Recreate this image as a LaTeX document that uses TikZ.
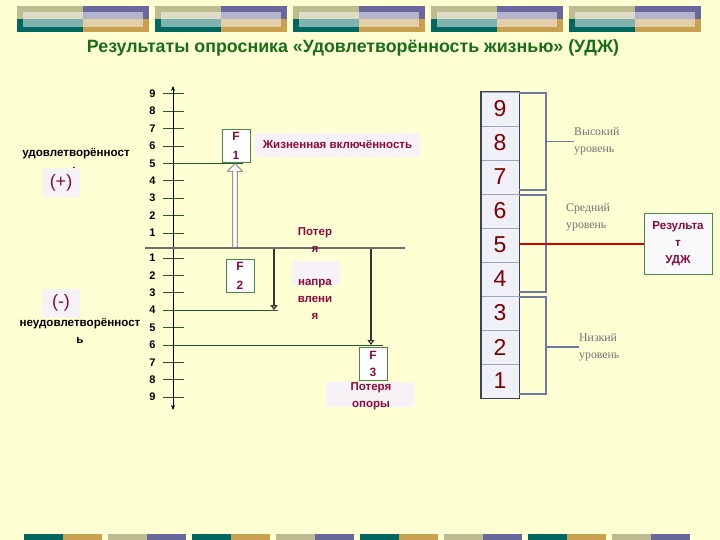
\documentclass[tikz,border=0pt]{standalone}
\usepackage{fontspec}
\setmainfont{Liberation Sans}
\newfontfamily\serifrm{Liberation Serif}
\usepackage{tikz}
\usepackage{xcolor}
\usetikzlibrary{arrows.meta,calc}

\definecolor{bgyellow}{RGB}{255,255,212}
\definecolor{bteal}{RGB}{0,104,96}
\definecolor{bgold}{RGB}{200,160,80}
\definecolor{bpurple}{RGB}{104,104,156}
\definecolor{bkhaki}{RGB}{188,188,144}
\definecolor{titlegreen}{RGB}{24,110,24}
\definecolor{tickgreen}{RGB}{40,90,40}
\definecolor{boxgreen}{RGB}{70,140,70}
\definecolor{darkred}{RGB}{140,10,60}
\definecolor{cellred}{RGB}{125,0,0}
\definecolor{paleback}{RGB}{246,242,246}
\definecolor{cellfill}{RGB}{240,240,248}
\definecolor{cellline}{RGB}{160,165,190}
\definecolor{bracketblue}{RGB}{110,120,160}
\definecolor{levelgrey}{RGB}{110,110,110}

\tikzset{
  axisnum/.style={anchor=east, font=\bfseries\fontsize{11}{12}\selectfont},
  tickline/.style={draw=tickgreen, line width=0.9pt},
  levelline/.style={draw=tickgreen, line width=0.9pt},
  fbox/.style={draw=boxgreen, fill=white, line width=0.8pt, minimum width=28pt,
    minimum height=33pt, inner sep=0pt, align=center, text=darkred,
    font=\bfseries\fontsize{12}{19}\selectfont},
  redtext/.style={text=darkred, align=center, inner sep=0pt,
    font=\bfseries\fontsize{11.5}{17}\selectfont},
  signbox/.style={fill=paleback, minimum width=38pt, minimum height=29pt,
    inner sep=0pt, text=darkred, font=\fontsize{18}{20}\selectfont},
  sideword/.style={align=center, inner sep=0pt,
    font=\bfseries\fontsize{11.6}{17}\selectfont},
  cellbox/.style={draw=cellline, fill=cellfill, line width=0.8pt,
    minimum width=38pt, minimum height=34pt, inner sep=0pt, text=cellred,
    font=\fontsize{23}{24}\selectfont},
  bracket/.style={draw=bracketblue, line width=1.3pt},
  levelname/.style={anchor=west, align=left, inner sep=0pt, text=black!55,
    font=\serifrm\fontsize{11.8}{17}\selectfont},
  downarrow/.style={draw=black!80, line width=1.2pt,
    -{Triangle[open, length=5pt, width=7pt]}}
}

\begin{document}
\begin{tikzpicture}[x=1pt,y=-1pt]
\useasboundingbox (0,0) rectangle (720,540);
\fill[bgyellow] (0,0) rectangle (720,540);

% top banners
\foreach \i in {0,...,4}{
  \pgfmathsetmacro{\xa}{17+138*\i}
  \fill[bkhaki] (\xa,6) rectangle (\xa+66,19);
  \fill[bpurple] (\xa+66,6) rectangle (\xa+132,19);
  \fill[bteal] (\xa,19) rectangle (\xa+66,32);
  \fill[bgold] (\xa+66,19) rectangle (\xa+132,32);
  \fill[white, opacity=0.5] (\xa+6,12) rectangle (\xa+126,27);
}

% bottom bars
\foreach \i in {0,...,7}{
  \pgfmathsetmacro{\xb}{24+84*\i}
  \ifodd\i
    \fill[bkhaki] (\xb,534) rectangle (\xb+39,540);
    \fill[bpurple] (\xb+39,534) rectangle (\xb+78,540);
  \else
    \fill[bteal] (\xb,534) rectangle (\xb+39,540);
    \fill[bgold] (\xb+39,534) rectangle (\xb+78,540);
  \fi
}

\node[text=titlegreen, font=\bfseries\fontsize{17.8}{20}\selectfont] (title) at (353,48)
  {Результаты опросника «Удовлетворённость жизнью» (УДЖ)};

% scale with ticks
\coordinate (zero) at (173,248);
\coordinate (axtop) at (173,86);
\coordinate (axbot) at (173,410);
\foreach \n in {1,...,9}{
  \pgfmathsetmacro{\yu}{250.4-17.4*\n}
  \pgfmathsetmacro{\yd}{240.6+17.4*\n}
  \coordinate (up\n) at (173,\yu);
  \coordinate (dn\n) at (173,\yd);
  \draw[tickline] (163,\yu) -- (184,\yu);
  \draw[tickline] (163,\yd) -- (184,\yd);
  \node[axisnum] (lu\n) at (159,\yu) {\n};
  \node[axisnum] (ld\n) at (159,\yd) {\n};
}
\draw[-{Stealth[length=5pt,width=4pt]}, line width=0.8pt] (zero) -- (axtop);
\draw[-{Stealth[length=5pt,width=4pt]}, line width=0.8pt] (zero) -- (axbot);

% level lines
\draw[levelline] ([xshift=-10pt]up5) -- ([xshift=70pt]up5);
\draw[levelline] ([xshift=-10pt]dn4) -- ([xshift=105pt]dn4);
\draw[levelline] ([xshift=-10pt]dn6) -- ([xshift=210pt]dn6);

% F1 hollow arrow
\coordinate (f1base) at (235,248);
\path (up5) ++(62,0) coordinate (f1tip);
\draw[black!60, fill=white, line width=0.7pt]
  ($(f1base)+(-2.2,0)$) -- ($(f1tip)+(-2.2,8)$) -- ($(f1tip)+(-7.5,8)$) -- (f1tip)
  -- ($(f1tip)+(7.5,8)$) -- ($(f1tip)+(2.2,8)$) -- ($(f1base)+(2.2,0)$);

% F2, F3 arrows
\coordinate (f2top) at (274,248);
\path (dn4) ++(101,0) coordinate (f2end);
\coordinate (f3top) at (371,248);
\path (dn6) ++(198,0) coordinate (f3end);
\draw[downarrow] (f2top) -- (f2end);
\draw[downarrow] (f3top) -- (f3end);

% zero line
\draw[levelgrey, line width=2.6pt] (145,248) -- (405,248);

% factor boxes
\node[fbox] (f1) at (236,145.5) {F\\1};
\node[fbox] (f2) at (240,276) {F\\2};
\node[fbox, font=\bfseries\fontsize{12}{17}\selectfont] (f3) at (373,364) {F\\3};

\node[fill=paleback, minimum width=165pt, minimum height=24pt, inner sep=0pt,
  text=darkred, font=\bfseries\fontsize{11.5}{13}\selectfont] (zhizn) at (337.5,145)
  {Жизненная включённость};

\node[redtext] (poter) at (315,240) {Потер\\я};
\fill[paleback] (292,261) rectangle (340,285);
\node[redtext] (napr) at (315,299) {напра\\влени\\я};

\node[fill=paleback, minimum width=89pt, minimum height=25pt, inner sep=0pt]
  (oporybox) at (370.5,394) {};
\node[redtext] (opory) at (371,396) {Потеря\\опоры};

% side labels
\node[sideword] (udov) at (76,161) {удовлетворённост\\ь};
\node[signbox] (plus) at (61,182.5) {(+)};
\node[signbox] (minus) at (61,303) {(-)};
\node[sideword] (neudov) at (80,330.5) {неудовлетворённост\\ь};

% result scale
\foreach \n in {1,...,9}{
  \node[cellbox] (c\n) at (500,{381-34*(\n-1)}) {\n};
}
\draw[draw=black!45!bracketblue, line width=1.8pt] (c9.north west) rectangle (c1.south east);

\draw[bracket] (519,93) -- (546,93) -- (546,190) -- (519,190);
\draw[bracket] (519,195) -- (546,195) -- (546,292) -- (519,292);
\draw[bracket] (519,297) -- (546,297) -- (546,394) -- (519,394);

\node[levelname] (high) at (574,141.5) {Высокий\\уровень};
\node[levelname] (mid) at (566,217) {Средний\\уровень};
\node[levelname] (low) at (579,347) {Низкий\\уровень};
\draw[bracket] (546,141.5) -- (high.west);
\draw[bracket] (546,347) -- (low.west);

\node[draw=boxgreen, fill=white!60!cellfill, line width=1pt, minimum width=68pt,
  minimum height=60pt, inner sep=0pt, align=center, text=darkred,
  font=\bfseries\fontsize{11.6}{17}\selectfont] (res) at (678,244) {Результа\\т\\УДЖ};
\draw[red!85!black, line width=1.2pt] (c5.east |- res.west) -- (res.west);
\end{tikzpicture}
\end{document}
